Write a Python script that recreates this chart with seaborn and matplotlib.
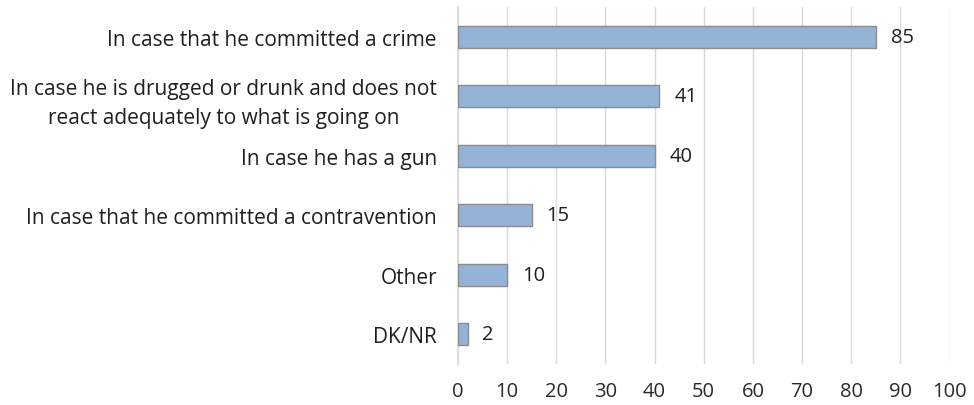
import matplotlib
matplotlib.use("Agg")
import matplotlib.pyplot as plt
import seaborn as sns
import pandas as pd

categories = [
    "In case that he committed a crime",
    "In case he is drugged or drunk and does not\nreact adequately to what is going on",
    "In case he has a gun",
    "In case that he committed a contravention",
    "Other",
    "DK/NR",
]
values = [85, 41, 40, 15, 10, 2]
x_ticks = [0, 10, 20, 30, 40, 50, 60, 70, 80, 90, 100]

sns.set_theme(style="white")
plt.rcParams["font.family"] = ["Open Sans", "DejaVu Sans"]

df = pd.DataFrame({"category": categories, "value": values})

fig = plt.figure(figsize=(9.74, 4.06), dpi=100)
ax = fig.add_axes([0.470, 0.101, 0.505, 0.879])

sns.barplot(data=df, x="value", y="category", orient="h", ax=ax,
            color="#95B3D7", saturation=1, width=0.37,
            edgecolor="#8C8C8C", linewidth=1.0, zorder=3)

for bar, v in zip(ax.patches, values):
    ax.text(bar.get_width() + 3.0, bar.get_y() + bar.get_height() / 2, f"{v}",
            va="center", ha="left", fontsize=14.5, color="#1F1F1F")

ax.set_xlim(0, 100)
ax.set_xticks(x_ticks)
ax.set_xticklabels([str(t) for t in x_ticks], fontsize=14.5, color="#2A2A2A")
ax.tick_params(axis="y", labelsize=15, labelcolor="#1F1F1F", length=0, pad=15)
ax.tick_params(axis="x", length=0, pad=12)
for lbl in ax.get_yticklabels():
    lbl.set_horizontalalignment("right")
    lbl.set_multialignment("center")
    lbl.set_linespacing(1.5)
ax.set_xlabel("")
ax.set_ylabel("")
ax.grid(axis="x", color="#D9D9D9", linewidth=1.0, zorder=0)
for side in ["top", "right", "bottom"]:
    ax.spines[side].set_visible(False)
ax.spines["left"].set_color("#D9D9D9")

fig.savefig("out.png", dpi=100)
